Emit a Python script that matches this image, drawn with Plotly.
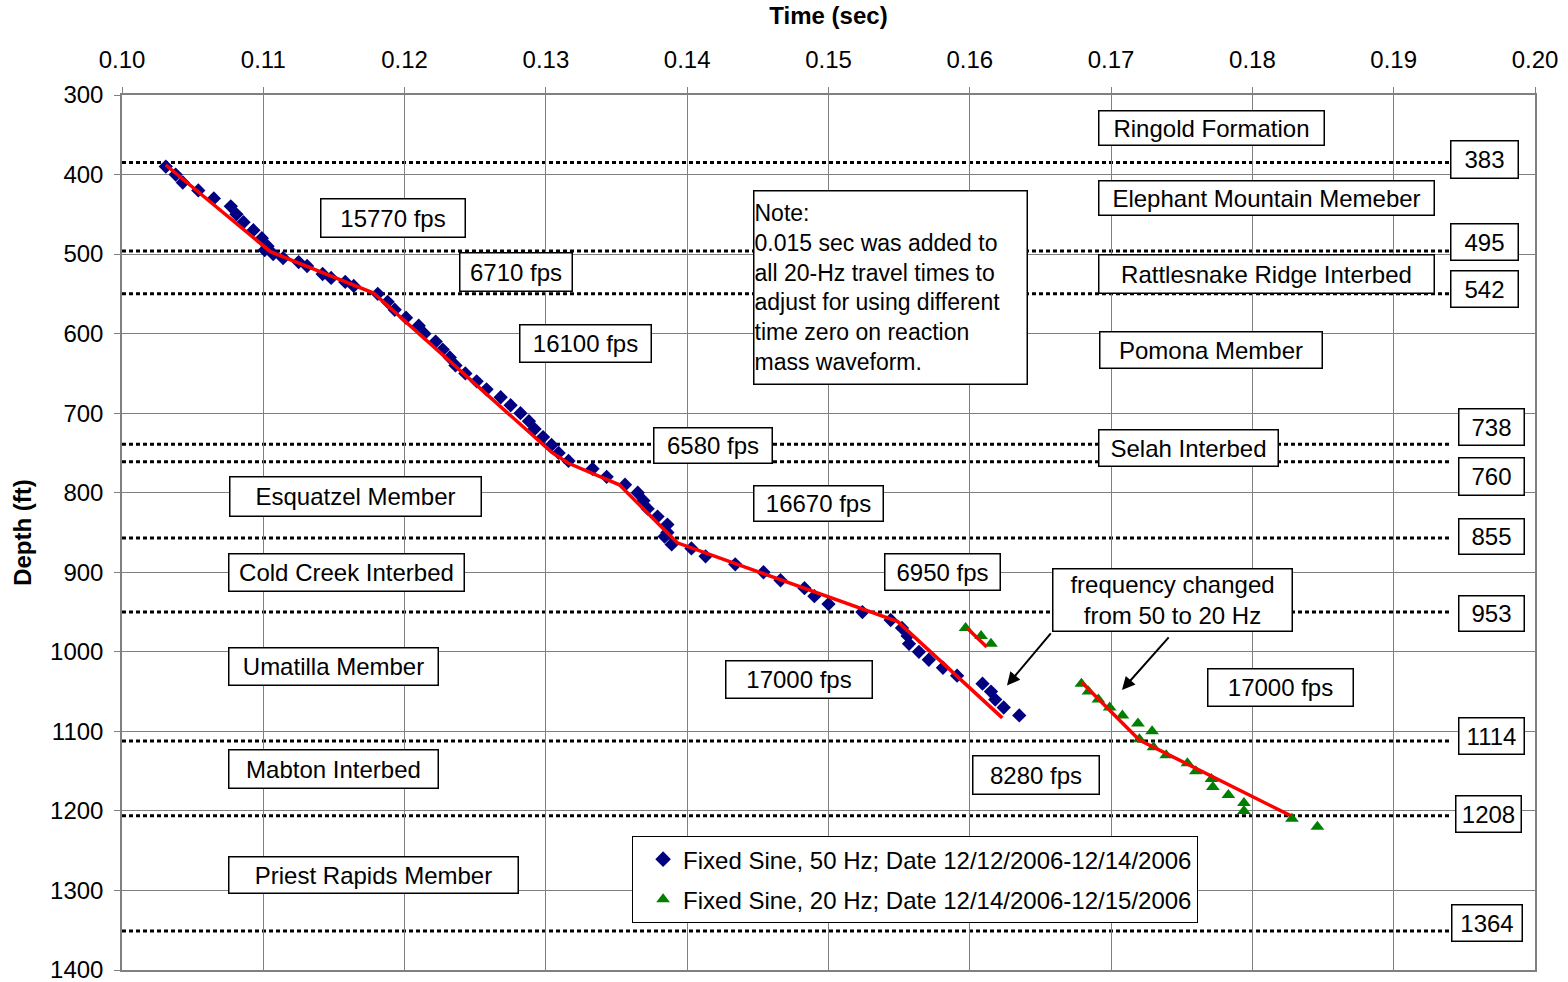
import plotly.graph_objects as go

# ---------------- data ----------------
# Fixed Sine, 50 Hz  (time in sec, depth in ft)
t50 = [0.1031, 0.1038, 0.1043, 0.1054, 0.1065, 0.1077, 0.1081, 0.1086, 0.1093, 0.1099,
       0.1103, 0.1101, 0.1107, 0.1114, 0.1125, 0.1131, 0.1142, 0.1148, 0.1158, 0.1164,
       0.1181, 0.1188, 0.1193, 0.1201, 0.1210, 0.1214, 0.1222, 0.1227, 0.1232, 0.1236,
       0.1243, 0.1251, 0.1258, 0.1268, 0.1275, 0.1282, 0.1288, 0.1292, 0.1298, 0.1304,
       0.1309, 0.1316, 0.1333, 0.1343, 0.1356, 0.1365, 0.1369, 0.1372, 0.1379, 0.1386,
       0.1386, 0.1384, 0.1389, 0.1403, 0.1413, 0.1434, 0.1454, 0.1466, 0.1483, 0.1490,
       0.1500, 0.1524, 0.1544, 0.1552, 0.1556, 0.1557, 0.1564, 0.1571, 0.1581, 0.1591,
       0.1609, 0.1615, 0.1618, 0.1624, 0.1635]
d50 = [390, 400, 410, 420, 430, 440, 450, 460, 470, 480,
       490, 495, 500, 505, 510, 515, 525, 530, 535, 540,
       550, 560, 570, 580, 590, 600, 610, 620, 630, 640,
       650, 660, 670, 680, 690, 700, 710, 720, 730, 740,
       750, 760, 770, 780, 790, 800, 810, 820, 830, 840,
       850, 855, 865, 870, 880, 890, 900, 910, 920, 930,
       940, 950, 960, 970, 980, 990, 1000, 1010, 1020, 1030,
       1040, 1050, 1060, 1070, 1080]

# Fixed Sine, 20 Hz
t20 = [0.1597, 0.1608, 0.1615, 0.1679, 0.1684, 0.1691, 0.1699, 0.1708, 0.1719, 0.1729,
       0.1720, 0.1730, 0.1739, 0.1754, 0.1760, 0.1771, 0.1772, 0.1783, 0.1794, 0.1794,
       0.1828, 0.1846]
d20 = [970, 980, 990, 1040, 1050, 1060, 1070, 1080, 1090, 1100,
       1110, 1120, 1130, 1140, 1150, 1160, 1170, 1180, 1190, 1200,
       1210, 1220]

# Interval-velocity fit lines
fit1_t = [0.1031, 0.1105, 0.1178, 0.1304, 0.1316, 0.1352, 0.1393, 0.1549, 0.1623]
fit1_d = [388, 497, 549, 749, 763, 790, 863, 962, 1083]
fit2_t = [0.1598, 0.1612]
fit2_d = [970, 994]
fit3_t = [0.1679, 0.1720, 0.1827]
fit3_d = [1038, 1111, 1206]

# Formation boundaries (dotted lines) and their labels
boundary_depths = [385, 496, 550, 739, 761, 857, 950, 1112, 1206, 1351]
boundary_labels = ["383", "495", "542", "738", "760", "855", "953", "1114", "1208", "1364"]

velocity_labels = ["15770 fps", "6710 fps", "16100 fps", "6580 fps", "16670 fps",
                   "6950 fps", "17000 fps", "8280 fps", "17000 fps"]
formation_labels = ["Ringold Formation", "Elephant Mountain Memeber", "Rattlesnake Ridge Interbed",
                    "Pomona Member", "Selah Interbed", "Esquatzel Member", "Cold Creek Interbed",
                    "Umatilla Member", "Mabton Interbed", "Priest Rapids Member"]

x_ticks = [0.10, 0.11, 0.12, 0.13, 0.14, 0.15, 0.16, 0.17, 0.18, 0.19, 0.20]
y_ticks = [300, 400, 500, 600, 700, 800, 900, 1000, 1100, 1200, 1300, 1400]

FONT = "Liberation Sans, Arial, sans-serif"
FS = 24

fig = go.Figure()

fig.add_trace(go.Scatter(
    x=t50, y=d50, mode="markers", name="Fixed Sine, 50 Hz; Date 12/12/2006-12/14/2006",
    legendgroup="a", marker=dict(symbol="diamond", size=11, color="#000080")))
fig.add_trace(go.Scatter(
    x=t20, y=d20, mode="markers", name="Fixed Sine, 20 Hz; Date 12/14/2006-12/15/2006",
    legendgroup="b", marker=dict(symbol="triangle-up", size=12, color="#008000")))
for ft, fd in [(fit1_t, fit1_d), (fit2_t, fit2_d), (fit3_t, fit3_d)]:
    fig.add_trace(go.Scatter(x=ft, y=fd, mode="lines", showlegend=False,
                             line=dict(color="#FF0000", width=3.5)))

# dotted boundary lines
for d in boundary_depths:
    fig.add_shape(type="line", xref="x", yref="y", x0=0.10, x1=0.1941, y0=d, y1=d,
                  line=dict(color="black", width=3, dash="4px,3px"), layer="below")


def box(text, x, y, w, h, align="center"):
    fig.add_annotation(x=x, y=y, xref="x", yref="y", text=text, showarrow=False,
                       font=dict(family=FONT, size=FS, color="black"),
                       bgcolor="white", bordercolor="black", borderwidth=1.5,
                       width=w, height=h, align=align, borderpad=0)


# velocity labels
vel_pos = [(0.1192, 455, 143, 37), (0.1279, 522, 111, 37), (0.1328, 613, 130, 36),
           (0.1418, 741, 117, 34), (0.1493, 813, 128, 34), (0.1581, 900, 114, 35),
           (0.1479, 1035, 145, 36), (0.1647, 1155, 125, 37), (0.1820, 1045, 144, 36)]
for lab, (x, y, w, h) in zip(velocity_labels, vel_pos):
    box(lab, x, y, w, h)

form_pos = [(0.1771, 341.5, 224, 33), (0.1810, 429.5, 334, 33), (0.1810, 525, 334, 37),
            (0.1771, 620.6, 221, 35), (0.1755, 743.8, 178, 35), (0.1165, 805, 250, 38),
            (0.1159, 900, 234, 36), (0.1150, 1018, 208, 36), (0.1150, 1147, 208, 37),
            (0.1178, 1280.5, 288, 35)]
for lab, (x, y, w, h) in zip(formation_labels, form_pos):
    box(lab, x, y, w, h)

# boundary value labels
lab_pos = [(0.19646, 381.7, 66, 36), (0.19646, 484.8, 66, 35), (0.19646, 543.9, 66, 35),
           (0.19689, 717.4, 64, 35), (0.19689, 780.2, 64, 36), (0.19689, 854.4, 64, 34),
           (0.19689, 951.2, 64, 34), (0.19689, 1105.8, 64, 35), (0.19674, 1203.9, 64, 35),
           (0.19660, 1340.9, 69, 35)]
for lab, (x, y, w, h) in zip(boundary_labels, lab_pos):
    box(lab, x, y, w, h)

# note
fig.add_annotation(
    x=0.15442, y=542.6, xref="x", yref="y", showarrow=False,
    text="Note:<br>0.015 sec was added to<br>all 20-Hz travel times to<br>adjust for using different"
         "<br>time zero on reaction<br>mass waveform.",
    font=dict(family=FONT, size=23, color="black"), bgcolor="white", bordercolor="black",
    borderwidth=1.5, width=272, height=192, align="left", borderpad=0)

# frequency-change arrows
for hx, hy, tx, ty in [(0.16263, 1042.3, 0.16582, 975), (0.17077, 1048, 0.17417, 980)]:
    fig.add_annotation(x=hx, y=hy, ax=tx, ay=ty, xref="x", yref="y", axref="x", ayref="y",
                       text="", showarrow=True, arrowhead=2, arrowsize=1.3, arrowwidth=2,
                       arrowcolor="black")
box("frequency changed<br>from 50 to 20 Hz", 0.17431, 935, 238, 61)

fig.update_layout(
    width=1568, height=982,
    margin=dict(l=122, r=33, t=95, b=12, autoexpand=False),
    paper_bgcolor="white", plot_bgcolor="white",
    font=dict(family=FONT, size=FS, color="black"),
    showlegend=True,
    legend=dict(x=0.361, y=0.1531, xanchor="left", yanchor="top",
                bgcolor="white", bordercolor="black", borderwidth=1,
                font=dict(family=FONT, size=FS), itemsizing="constant",
                tracegroupgap=6, indentation=10),
    xaxis=dict(range=[0.10, 0.20], side="top", tickvals=x_ticks, tickformat=".2f",
               showgrid=True, gridcolor="#808080", gridwidth=1, automargin=False,
               showline=True, linecolor="#808080", linewidth=1.5, mirror=True,
               ticks="outside", ticklen=6, tickcolor="#808080", zeroline=False,
               ticklabelstandoff=10, ticklabeloverflow="allow",
               title=dict(text="<b>Time (sec)</b>", font=dict(family=FONT, size=FS), standoff=14)),
    yaxis=dict(range=[1400, 300], tickvals=y_ticks, automargin=False,
               showgrid=True, gridcolor="#808080", gridwidth=1,
               showline=True, linecolor="#808080", linewidth=1.5, mirror=True,
               ticks="outside", ticklen=6, tickcolor="#808080", zeroline=False,
               ticklabelstandoff=6, ticklabeloverflow="allow",
               title=dict(text="<b>Depth (ft)</b>", font=dict(family=FONT, size=FS), standoff=12)),
)

fig.write_html("out.html")
